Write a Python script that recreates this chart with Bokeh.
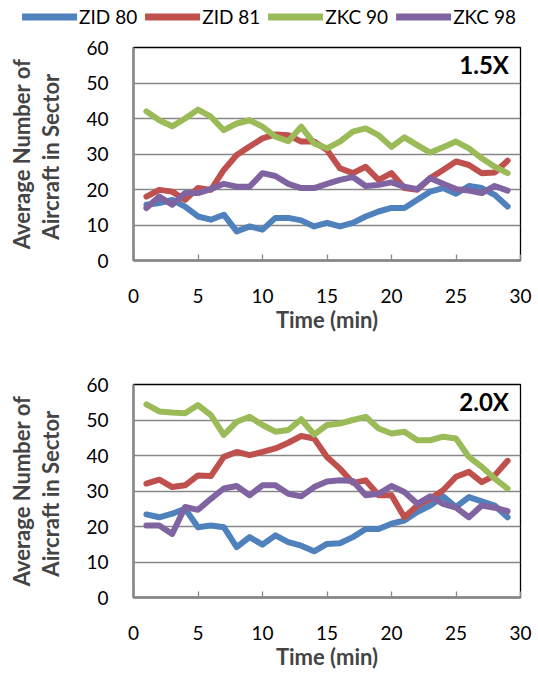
from bokeh.plotting import figure
from bokeh.layouts import column
from bokeh.models import Legend, LegendItem, LinearAxis, FixedTicker, Label, Range1d
from bokeh.embed import file_html
from bokeh.resources import INLINE

FONT = "Lato"

minutes = list(range(1, 30))
series_names = ["ZID 80", "ZID 81", "ZKC 90", "ZKC 98"]
colors = ["#4F81BD", "#C0504D", "#9BBB59", "#8064A2"]
x_ticks = [0, 5, 10, 15, 20, 25, 30]
y_ticks = [0, 10, 20, 30, 40, 50, 60]

# 1.5X traffic
top_zid80 = [15.7, 16.2, 17.1, 15.2, 12.4, 11.5, 12.9, 8.2, 9.6, 8.7, 12.0, 12.0, 11.3, 9.6, 10.6,
             9.6, 10.6, 12.4, 13.8, 14.8, 14.8, 17.1, 19.4, 20.4, 18.8, 21.0, 20.4, 18.5, 15.2]
top_zid81 = [18.0, 19.9, 19.4, 17.1, 20.4, 19.9, 25.5, 29.7, 32.1, 34.4, 35.5, 35.3, 33.5, 33.5, 31.1,
             26.0, 24.6, 26.4, 22.7, 24.6, 20.4, 19.9, 23.2, 25.5, 27.9, 26.9, 24.6, 24.8, 28.1]
top_zkc90 = [42.0, 39.5, 37.8, 40.0, 42.5, 40.5, 36.7, 38.6, 39.5, 37.7, 34.9, 33.6, 37.7, 33.0, 31.6,
             33.5, 36.3, 37.2, 35.3, 32.0, 34.7, 32.5, 30.4, 31.9, 33.5, 31.6, 28.8, 26.4, 24.6]
top_zkc98 = [14.8, 18.0, 15.7, 19.0, 19.0, 20.1, 21.6, 20.8, 20.8, 24.6, 23.8, 21.6, 20.4, 20.4, 21.6,
             22.7, 23.5, 21.0, 21.3, 22.0, 20.8, 20.1, 23.2, 21.6, 20.1, 19.7, 19.0, 21.0, 19.7]

# 2.0X traffic
bot_zid80 = [23.4, 22.6, 23.6, 25.0, 19.8, 20.3, 19.8, 14.2, 17.0, 14.9, 17.5, 15.6, 14.6, 13.0, 15.1,
             15.3, 17.0, 19.3, 19.3, 20.8, 21.7, 24.1, 25.9, 28.5, 25.5, 28.3, 27.1, 25.9, 22.6]
bot_zid81 = [32.1, 33.2, 31.1, 31.6, 34.4, 34.2, 39.6, 41.0, 40.1, 41.0, 42.0, 43.6, 45.5, 44.8, 39.6,
             36.3, 32.3, 33.0, 28.8, 28.8, 22.6, 25.9, 27.8, 30.2, 34.0, 35.4, 32.5, 34.4, 38.5]
bot_zkc90 = [54.4, 52.4, 52.1, 51.9, 54.2, 51.4, 45.8, 49.5, 50.9, 48.6, 46.7, 47.2, 50.2, 45.9, 48.6,
             49.0, 50.0, 50.9, 47.6, 46.2, 46.7, 44.3, 44.3, 45.3, 44.8, 39.6, 36.8, 33.5, 30.7]
bot_zkc98 = [20.3, 20.3, 17.9, 25.5, 24.7, 27.8, 30.7, 31.4, 28.8, 31.6, 31.6, 29.2, 28.5, 31.1, 32.7,
             33.0, 32.8, 28.8, 29.2, 31.4, 29.7, 26.4, 28.5, 26.4, 25.3, 22.6, 25.9, 25.3, 24.3]

GRID = "#878787"


def make_panel(series, tag, height, border_top, border_bottom):
    p = figure(width=538, height=height, x_range=Range1d(0, 30), y_range=Range1d(0, 60),
               output_backend="svg", toolbar_location=None,
               min_border_top=border_top, min_border_bottom=border_bottom,
               min_border_left=133, min_border_right=18)
    p.outline_line_color = "#000000"
    p.outline_line_width = 1.3
    p.xgrid.visible = False
    p.ygrid.grid_line_color = GRID
    p.ygrid.grid_line_width = 1.3

    xa = p.xaxis[0]
    xa.ticker = FixedTicker(ticks=x_ticks)
    xa.axis_line_color = GRID
    xa.axis_line_width = 2.5
    xa.major_tick_line_color = GRID
    xa.major_tick_line_width = 1.3
    xa.major_tick_in = 6
    xa.major_tick_out = 0
    xa.minor_tick_line_color = None
    xa.major_label_standoff = 28
    xa.major_label_text_font = FONT
    xa.major_label_text_font_size = "19px"
    xa.major_label_text_color = "#000000"
    xa.axis_label = "Time (min)"
    xa.axis_label_text_font = FONT
    xa.axis_label_text_font_size = "22px"
    xa.axis_label_text_font_style = "bold"
    xa.axis_label_standoff = 0

    ya = p.yaxis[0]
    ya.ticker = FixedTicker(ticks=y_ticks)
    ya.axis_line_color = GRID
    ya.axis_line_width = 2.5
    ya.major_tick_line_color = None
    ya.minor_tick_line_color = None
    ya.major_tick_out = 0
    ya.major_tick_in = 0
    ya.major_label_standoff = 25
    ya.major_label_text_font = FONT
    ya.major_label_text_font_size = "19px"
    ya.major_label_text_color = "#000000"
    ya.axis_label = "Aircraft  in Sector"
    ya.axis_label_text_font = FONT
    ya.axis_label_text_font_size = "22px"
    ya.axis_label_text_font_style = "bold"
    ya.axis_label_standoff = 19

    outer = LinearAxis(ticker=FixedTicker(ticks=[]), axis_label="Average Number of",
                       axis_line_color=None, major_tick_line_color=None, minor_tick_line_color=None,
                       major_tick_in=0, major_tick_out=0, major_label_text_font_size="0px",
                       axis_label_text_font=FONT, axis_label_text_font_size="22px",
                       axis_label_text_font_style="bold", axis_label_standoff=0)
    p.add_layout(outer, "left")

    renderers = []
    for name, vals, col in zip(series_names, series, colors):
        r = p.line(minutes, vals, line_color=col, line_width=6, line_join="round", line_cap="round")
        renderers.append(r)

    p.add_layout(Label(x=29.1, y=59.2, text=tag, text_align="right", text_baseline="top",
                       text_font=FONT, text_font_size="24px", text_font_style="bold",
                       text_color="#000000"))
    return p, renderers


# legend strip: its own root, so its frame is not aligned with the panels' frames
lg = figure(width=538, height=32, x_range=Range1d(0, 1), y_range=Range1d(0, 1),
            output_backend="svg", toolbar_location=None, min_border=0,
            x_axis_location=None, y_axis_location=None)
lg.grid.visible = False
lg.outline_line_color = None
lg_items = []
for name, vals, col in zip(series_names, [top_zid80, top_zid81, top_zkc90, top_zkc98], colors):
    r = lg.line(minutes, vals, line_color=col, line_width=7, line_cap="round", visible=False)
    lg_items.append(LegendItem(label=name, renderers=[r]))
legend = Legend(items=lg_items, location="center", orientation="horizontal",
                glyph_width=55, glyph_height=20, label_standoff=2, spacing=8,
                padding=0, margin=0, border_line_color=None, background_fill_alpha=0,
                label_text_font=FONT, label_text_font_size="19px", label_text_color="#000000")
lg.add_layout(legend, "center")

p1, _ = make_panel([top_zid80, top_zid81, top_zkc90, top_zkc98], "1.5X", 308, 15, 80)
p2, _ = make_panel([bot_zid80, bot_zid81, bot_zkc90, bot_zkc98], "2.0X", 335, 44, 78)

panels = column(p1, p2, spacing=0)
open("out.html", "w").write(file_html([lg, panels], INLINE))
